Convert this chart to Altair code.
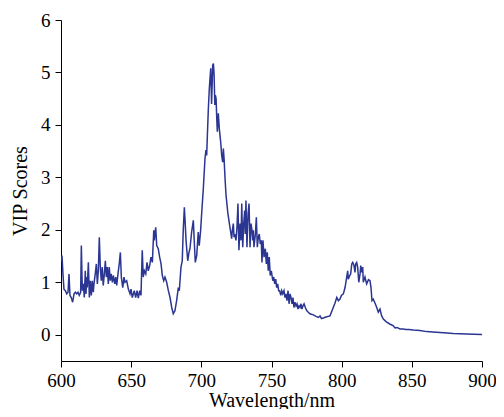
import altair as alt
import pandas as pd

wavelength = [
    600.0, 600.7, 601.4, 602.1, 603.1, 604.1, 605.0, 605.7, 606.4, 607.3, 608.3, 609.3,
    610.2, 611.2, 612.1, 613.0, 614.0, 614.5, 615.2, 615.9, 616.6, 617.3, 617.8, 618.3,
    618.7, 619.5, 620.2, 620.9, 621.6, 622.3, 623.0, 623.5, 624.4, 625.2, 625.9, 626.6,
    627.3, 628.0, 628.7, 629.4, 630.1, 630.9, 631.6, 632.3, 633.0, 633.7, 634.4, 635.1,
    635.8, 636.6, 637.3, 638.3, 639.0, 639.7, 640.6, 641.5, 642.3, 643.0, 644.0, 644.9,
    645.6, 646.8, 648.0, 649.2, 649.9, 650.8, 652.2, 653.2, 654.2, 655.1, 656.1, 657.0,
    657.9, 658.6, 659.4, 660.4, 661.3, 662.2, 663.2, 664.1, 665.1, 666.1, 666.5, 667.5,
    668.2, 669.3, 670.3, 671.3, 672.2, 673.2, 674.1, 675.3, 676.5, 677.7, 678.9, 680.0,
    681.2, 682.4, 683.6, 684.3, 685.5, 686.4, 687.1, 687.9, 688.4, 689.1, 690.3, 691.2,
    691.9, 693.1, 694.3, 695.0, 695.7, 696.7, 697.8, 698.5, 699.5, 700.3, 701.4, 702.6,
    703.3, 703.8, 704.3, 705.0, 705.7, 706.7, 707.3, 708.1, 708.6, 709.1, 709.6, 710.0,
    710.5, 711.0, 711.4, 712.1, 712.8, 713.8, 714.5, 715.2, 715.7, 716.2, 716.9, 717.6,
    718.1, 718.8, 719.5, 720.2, 720.9, 721.6, 722.1, 722.8, 723.3, 723.8, 724.7, 725.4,
    726.1, 726.8, 727.6, 728.3, 728.8, 729.5, 730.2, 730.9, 731.3, 731.8, 732.5, 733.3,
    734.0, 734.7, 735.4, 736.1, 736.6, 737.0, 737.5, 738.5, 739.2, 739.9, 740.6, 741.3,
    742.0, 742.7, 743.2, 743.9, 744.7, 745.6, 746.3, 747.0, 747.7, 748.4, 749.1, 749.9,
    750.9, 751.6, 752.3, 753.0, 753.7, 754.4, 755.1, 755.8, 756.6, 757.3, 758.0, 758.9,
    759.6, 760.3, 761.0, 761.8, 762.5, 763.2, 763.9, 764.6, 765.3, 766.0, 766.7, 767.5,
    768.2, 768.9, 769.6, 770.3, 771.0, 771.7, 772.4, 773.2, 774.1, 775.1, 776.2, 777.4,
    779.8, 781.7, 783.4, 784.6, 785.6, 786.9, 788.8, 791.7, 794.0, 795.2, 796.5, 797.7,
    798.8, 799.8, 801.2, 802.4, 803.6, 804.3, 804.7, 805.6, 806.4, 807.2, 807.9, 808.8,
    809.5, 810.0, 810.7, 811.4, 812.2, 813.1, 813.6, 814.3, 815.0, 815.4, 816.6, 817.8,
    819.1, 820.2, 820.9, 821.6, 822.5, 823.8, 825.0, 826.1, 827.3, 828.5, 829.7, 830.9,
    832.1, 833.4, 834.4, 835.5, 836.8, 838.0, 839.4, 841.6, 843.7, 845.8, 848.0, 851.0,
    855.8, 860.6, 865.1, 870.1, 875.1, 879.5, 884.3, 889.1, 894.3, 900.0,
]

vip = [
    1.41, 1.51, 1.16, 0.87, 0.84, 0.78, 0.81, 1.16, 0.75, 0.71, 0.62, 0.78,
    0.81, 0.78, 0.81, 0.75, 0.81, 1.70, 0.84, 0.97, 0.71, 1.22, 0.78, 1.10,
    0.90, 1.38, 0.71, 1.03, 0.75, 1.03, 0.81, 0.97, 1.16, 1.35, 0.97, 1.22,
    1.86, 1.29, 1.03, 1.29, 0.94, 1.16, 1.41, 1.10, 1.29, 0.97, 1.29, 1.03,
    1.16, 1.00, 1.13, 0.97, 1.10, 0.94, 1.16, 1.35, 1.57, 1.10, 0.90, 1.10,
    1.00, 1.03, 0.87, 0.78, 0.87, 0.71, 0.84, 0.71, 0.84, 0.70, 0.84, 0.75,
    1.61, 1.10, 1.22, 1.16, 1.38, 1.22, 1.32, 1.48, 1.38, 1.99, 1.80, 2.05,
    1.70, 1.64, 1.48, 1.35, 1.13, 1.03, 1.10, 1.00, 0.84, 0.71, 0.52, 0.40,
    0.46, 0.65, 0.90, 0.84, 1.29, 1.41, 1.99, 2.43, 2.18, 1.80, 1.41, 1.57,
    1.64, 1.96, 2.18, 1.76, 1.38, 1.51, 1.96, 1.70, 1.99, 2.34, 2.78, 3.36,
    3.52, 3.42, 3.80, 4.31, 4.70, 5.08, 4.40, 5.14, 5.17, 4.95, 4.38, 4.57,
    4.50, 4.12, 3.87, 4.22, 3.93, 3.67, 3.42, 3.29, 3.55, 3.36, 2.98, 2.66,
    2.53, 2.34, 2.21, 2.08, 1.96, 1.83, 1.99, 2.12, 1.86, 1.92, 1.80, 2.05,
    2.50, 1.61, 2.12, 1.80, 2.50, 1.67, 2.12, 2.37, 1.92, 2.56, 1.67, 2.31,
    2.50, 1.67, 2.12, 1.99, 1.80, 1.99, 1.67, 1.92, 2.24, 1.67, 1.86, 1.92,
    1.73, 1.80, 1.38, 1.80, 1.48, 1.64, 1.35, 1.57, 1.22, 1.48, 1.13, 1.22,
    1.03, 1.10, 0.97, 1.06, 0.90, 0.97, 0.84, 0.84, 0.75, 0.84, 0.78, 0.84,
    0.71, 0.78, 0.65, 0.84, 0.59, 0.78, 0.71, 0.59, 0.71, 0.52, 0.62, 0.55,
    0.59, 0.49, 0.55, 0.52, 0.59, 0.49, 0.55, 0.59, 0.52, 0.46, 0.43, 0.40,
    0.38, 0.35, 0.33, 0.36, 0.31, 0.32, 0.34, 0.36, 0.52, 0.60, 0.71, 0.65,
    0.68, 0.75, 0.78, 0.90, 1.10, 1.22, 1.06, 1.12, 1.16, 1.35, 1.38, 1.32,
    1.19, 1.35, 1.38, 1.29, 1.00, 1.16, 1.32, 1.19, 1.29, 1.00, 1.10, 0.97,
    1.05, 1.03, 0.90, 0.65, 0.68, 0.60, 0.52, 0.43, 0.49, 0.36, 0.30, 0.27,
    0.24, 0.22, 0.20, 0.19, 0.17, 0.13, 0.14, 0.11, 0.11, 0.10, 0.10, 0.09,
    0.08, 0.06, 0.055, 0.045, 0.035, 0.025, 0.02, 0.013, 0.008, 0.005,
]

x_ticks = [600, 650, 700, 750, 800, 850, 900]
y_ticks = [0, 1, 2, 3, 4, 5, 6]

df = pd.DataFrame({"wl": wavelength, "vip": vip})

font = "Liberation Serif"

chart = (
    alt.Chart(df)
    .mark_line(color="#2b3592", strokeWidth=1.5, clip=True)
    .encode(
        x=alt.X(
            "wl:Q",
            scale=alt.Scale(domain=[600, 900], nice=False, zero=False),
            axis=alt.Axis(
                title="Wavelength/nm",
                values=x_ticks,
                format="d",
                labelFlush=False,
                labelPadding=4,
                titlePadding=0,
            ),
        ),
        y=alt.Y(
            "vip:Q",
            scale=alt.Scale(domain=[-0.5, 6], nice=False, zero=False),
            axis=alt.Axis(
                title="VIP Scores",
                values=y_ticks,
                format="d",
                labelFlush=False,
                labelPadding=5,
                titlePadding=10,
            ),
        ),
    )
    .properties(
        width=421,
        height=341,
        autosize=alt.AutoSizeParams(type="none"),
        padding={"left": 53, "top": 12, "right": 14, "bottom": 48},
        background="white",
    )
    .configure_view(stroke=None)
    .configure_axis(
        grid=False,
        domainColor="black",
        domainWidth=1,
        tickColor="black",
        tickSize=6,
        tickWidth=1,
        labelFont=font,
        labelFontSize=19,
        labelColor="black",
        titleFont=font,
        titleFontSize=20,
        titleFontWeight="normal",
        titleColor="black",
    )
)

chart.save("out.html", embed_options={"renderer": "svg", "actions": False})
